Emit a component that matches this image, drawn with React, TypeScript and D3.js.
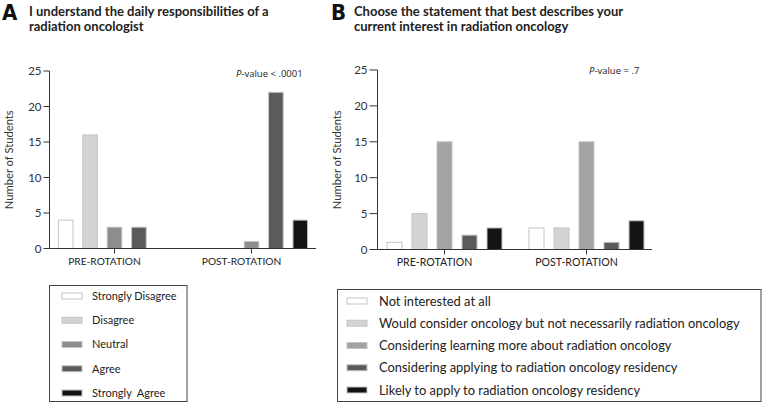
import React from 'react'
import * as d3 from 'd3'

const groups = ['PRE-ROTATION', 'POST-ROTATION']

const seriesA = ['Strongly Disagree', 'Disagree', 'Neutral', 'Agree', 'Strongly  Agree']
const preA = [4, 16, 3, 3, 0]
const postA = [0, 0, 1, 22, 4]
const colorsA = ['#ffffff', '#d3d3d3', '#8d8d8d', '#5b5b5b', '#141414']

const seriesB = [
  'Not interested at all',
  'Would consider oncology but not necessarily radiation oncology',
  'Considering learning more about radiation oncology',
  'Considering applying to radiation oncology residency',
  'Likely to apply to radiation oncology residency',
]
const preB = [1, 5, 15, 2, 3]
const postB = [3, 3, 15, 1, 4]
const colorsB = ['#ffffff', '#d3d3d3', '#a3a3a3', '#5b5b5b', '#141414']

const yTicks = [0, 5, 10, 15, 20, 25]

const FONT = "Lato, 'DejaVu Sans Condensed', sans-serif"
const PFONT = "'Open Sans', 'Noto Sans', sans-serif"

type PanelProps = {
  letter: string
  letterX: number
  titleX: number
  title: string[]
  series: string[]
  values: number[][]
  colors: string[]
  axisX: [number, number]
  outerRange: [number, number]
  innerHalf: number
  yRange: [number, number]
  pText: string
  pX: number
  pY: number
  yLabelX: number
  tickLen: number
  catSize: number
}

const Panel = (p: PanelProps) => {
  const y = d3.scaleLinear().domain([0, 25]).range(p.yRange)
  const x0 = d3.scaleBand().domain(groups).range(p.outerRange).padding(0)
  const x1 = d3
    .scaleBand()
    .domain(p.series)
    .range([-p.innerHalf, p.innerHalf])
    .paddingInner(0.36)
    .paddingOuter(0.18)
  const base = y(0)
  return (
    <g>
      <text x={p.letterX} y={20} fontFamily="'DejaVu Sans Condensed', sans-serif" fontWeight="bold" fontSize={22} fill="#111">
        {p.letter}
      </text>
      {p.title.map((t, i) => (
        <text key={i} x={p.titleX} y={16 + i * 14.5} fontFamily={FONT} fontWeight="bold" fontSize={13} fill="#222">
          {t}
        </text>
      ))}
      {groups.map((g, gi) => (
        <g key={g} transform={`translate(${x0(g)! + x0.bandwidth() / 2},0)`}>
          {p.series.map((s, si) => {
            const v = p.values[gi][si]
            if (!v) return null
            return (
              <rect
                key={s}
                x={x1(s)! + 0.5}
                y={y(v)}
                width={x1.bandwidth() - 1}
                height={base - y(v)}
                fill={p.colors[si]}
                stroke="#c4c4c4"
                strokeWidth={1}
              />
            )
          })}
          <line x1={0} x2={0} y1={base} y2={base + 5} stroke="#333" />
          <text x={-10} y={base + 16} textAnchor="middle" fontFamily={FONT} fontSize={p.catSize} fill="#222">
            {g}
          </text>
        </g>
      ))}
      <line x1={p.axisX[0]} x2={p.axisX[1]} y1={base} y2={base} stroke="#333" />
      <line x1={p.axisX[0]} x2={p.axisX[0]} y1={y(25)} y2={base} stroke="#333" />
      {yTicks.map((t) => (
        <g key={t} transform={`translate(${p.axisX[0]},${y(t)})`}>
          <line x1={-p.tickLen} x2={0} stroke="#333" />
          <text x={-p.tickLen - 2} dy="0.35em" textAnchor="end" fontFamily={FONT} fontSize={11.5} fill="#333">
            {t}
          </text>
        </g>
      ))}
      <text
        transform={`translate(${p.yLabelX},${(y(25) + base) / 2}) rotate(-90)`}
        textAnchor="middle"
        dy="0.35em"
        fontFamily={FONT}
        fontSize={11.2}
        fill="#333"
      >
        Number of Students
      </text>
      <text x={p.pX} y={p.pY} fontFamily={PFONT} fontSize={9.5} fill="#222">
        <tspan fontStyle="italic">P</tspan>
        {p.pText}
      </text>
    </g>
  )
}

type LegendProps = {
  box: [number, number, number, number]
  swatchX: number
  textX: number
  rowY: [number, number]
  series: string[]
  colors: string[]
  fontSize: number
}

const Legend = (l: LegendProps) => {
  const ry = d3.scaleLinear().domain([0, l.series.length - 1]).range(l.rowY)
  return (
    <g>
      <rect x={l.box[0]} y={l.box[1]} width={l.box[2]} height={l.box[3]} fill="#fff" stroke="#444" strokeWidth={1} />
      {l.series.map((s, i) => (
        <g key={s}>
          <rect x={l.swatchX} y={ry(i) - 3} width={20} height={6} fill={l.colors[i]} stroke="#c4c4c4" />
          <text
            x={l.textX}
            y={ry(i)}
            dy="0.35em"
            fontFamily={FONT}
            fontSize={l.fontSize}
            fill="#222"
            style={{ whiteSpace: 'pre' }}
          >
            {s}
          </text>
        </g>
      ))}
    </g>
  )
}

const App = () => {
  return (
    <svg width={762} height={403} style={{ position: 'absolute', left: 0, top: 0, background: '#fff' }}>
      <rect width={762} height={403} fill="#fff" />
      <Panel
        letter="A"
        letterX={2}
        titleX={29}
        title={['I understand the daily responsibilities of a', 'radiation oncologist']}
        series={seriesA}
        values={[preA, postA]}
        colors={colorsA}
        axisX={[49.5, 316]}
        outerRange={[46, 320]}
        innerHalf={61}
        yRange={[248.5, 71]}
        pText="-value < .0001"
        pX={236}
        pY={77}
        yLabelX={9}
        tickLen={6}
        catSize={10.2}
      />
      <Panel
        letter="B"
        letterX={331}
        titleX={354}
        title={['Choose the statement that best describes your', 'current interest in radiation oncology']}
        series={seriesB}
        values={[preB, postB]}
        colors={colorsB}
        axisX={[377.5, 652]}
        outerRange={[373.5, 657.5]}
        innerHalf={62.5}
        yRange={[249.5, 70]}
        pText="-value = .7"
        pX={589}
        pY={74}
        yLabelX={337}
        tickLen={8}
        catSize={10.6}
      />
      <Legend
        box={[49.5, 285.5, 137.5, 116]}
        swatchX={62}
        textX={92}
        rowY={[296, 393]}
        series={seriesA}
        colors={colorsA}
        fontSize={11}
      />
      <Legend
        box={[337.5, 289.5, 423.5, 112]}
        swatchX={347}
        textX={379}
        rowY={[301, 390]}
        series={seriesB}
        colors={colorsB}
        fontSize={12.9}
      />
    </svg>
  )
}

export default App
